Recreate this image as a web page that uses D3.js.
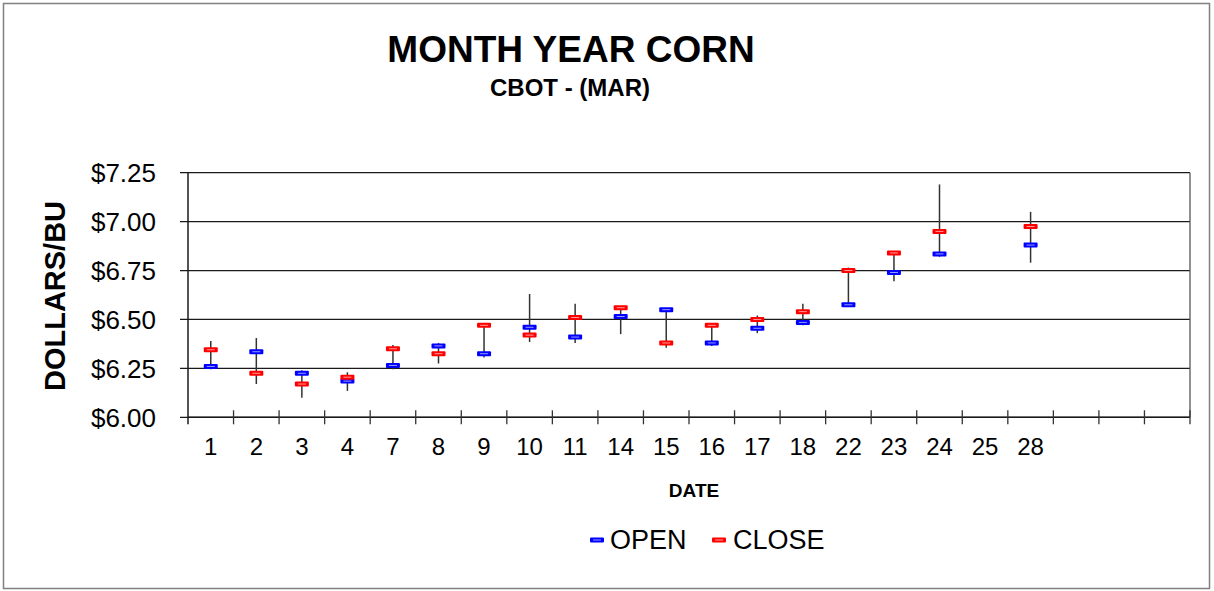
<!DOCTYPE html>
<html>
<head>
<meta charset="utf-8">
<script src="https://cdn.jsdelivr.net/npm/d3@7"></script>
<style>
  html, body { margin: 0; padding: 0; background: #fff; }
  svg { display: block; }
  text { font-family: "Liberation Sans", Arial, sans-serif; fill: #000; }
</style>
</head>
<body>
<svg id="chart" width="1214" height="591"></svg>
<script>
// ---- data ----
const dates  = ["1","2","3","4","7","8","9","10","11","14","15","16","17","18","22","23","24","25","28"];
const blankSlots = ["", "", ""];
const highs  = [6.39, 6.405, 6.24, 6.23, 6.37, 6.38, 6.47, 6.63, 6.58, 6.56, 6.55, 6.47, 6.52, 6.58, 6.765, 6.85, 7.19, null, 7.05];
const lows   = [6.245, 6.17, 6.10, 6.135, 6.245, 6.275, 6.305, 6.385, 6.38, 6.425, 6.355, 6.365, 6.43, 6.47, 6.575, 6.695, 6.82, null, 6.79];
const opens  = [6.26, 6.335, 6.225, 6.185, 6.265, 6.365, 6.325, 6.46, 6.41, 6.515, 6.55, 6.38, 6.455, 6.485, 6.575, 6.74, 6.835, null, 6.88];
const closes = [6.345, 6.225, 6.17, 6.205, 6.35, 6.325, 6.47, 6.42, 6.51, 6.56, 6.38, 6.47, 6.50, 6.54, 6.75, 6.84, 6.95, null, 6.975];
const yTicks = [6.00, 6.25, 6.50, 6.75, 7.00, 7.25];
const seriesNames = ["OPEN", "CLOSE"];

// ---- layout ----
const svg = d3.select("#chart");
const L = 188, R = 1190, T = 172.7, B = 417.3;

svg.append("rect").attr("x", 3.5).attr("y", 3.5).attr("width", 1206).attr("height", 585)
  .attr("fill", "#fff").attr("stroke", "#808080").attr("stroke-width", 1.5);

const slotKeys = dates.map((d, i) => "k" + i).concat(blankSlots.map((d, i) => "b" + i));
const slotLabels = dates.concat(blankSlots);
const x = d3.scaleBand().domain(slotKeys).range([L, R]).paddingInner(0).paddingOuter(0);
const y = d3.scaleLinear().domain([6, 7.25]).range([B, T]);

// gridlines
svg.append("g").selectAll("line").data(yTicks).join("line")
  .attr("x1", L - 8).attr("x2", R)
  .attr("y1", d => y(d)).attr("y2", d => y(d))
  .attr("stroke", "#1a1a1a").attr("stroke-width", 1.3);

// y axis labels
svg.append("g").selectAll("text").data(yTicks).join("text")
  .attr("x", 156).attr("y", d => y(d)).attr("dy", "0.36em")
  .attr("text-anchor", "end").attr("font-size", 26)
  .text(d => d3.format("$.2f")(d));

// left axis & right border
svg.append("line").attr("x1", L).attr("x2", L).attr("y1", T).attr("y2", B + 7)
  .attr("stroke", "#1a1a1a").attr("stroke-width", 1.5);
svg.append("line").attr("x1", R).attr("x2", R).attr("y1", T).attr("y2", B)
  .attr("stroke", "#555").attr("stroke-width", 1.3);

// x axis
const xAxis = d3.axisBottom(x).tickSize(0).tickFormat((d, i) => slotLabels[i]);
const gx = svg.append("g").attr("transform", `translate(0,${B})`).call(xAxis);
gx.select(".domain").remove();
gx.selectAll("text").attr("font-size", 24).attr("dy", 0).attr("y", 38)
  .style("font-family", '"Liberation Sans", Arial, sans-serif').attr("fill", "#000");
svg.append("line").attr("x1", L).attr("x2", R).attr("y1", B).attr("y2", B)
  .attr("stroke", "#1a1a1a").attr("stroke-width", 1.5);
// boundary ticks
const bounds = slotKeys.map(k => x(k)).concat([R]);
svg.append("g").selectAll("line").data(bounds.slice(1)).join("line")
  .attr("x1", d => d).attr("x2", d => d).attr("y1", B - 7).attr("y2", B + 7)
  .attr("stroke", "#333").attr("stroke-width", 1.3);

// high-low lines
const idx = d3.range(dates.length).filter(i => highs[i] != null);
const cx = i => x(slotKeys[i]) + x.bandwidth() / 2;
svg.append("g").selectAll("line").data(idx).join("line")
  .attr("x1", cx).attr("x2", cx)
  .attr("y1", i => y(highs[i])).attr("y2", i => y(lows[i]))
  .attr("stroke", "#333").attr("stroke-width", 1.5);

function marker(g, px, py, color, light) {
  g.append("rect").attr("x", px - 7).attr("y", py - 2.5).attr("width", 14).attr("height", 5)
    .attr("rx", 1).attr("fill", color);
  g.append("line").attr("x1", px - 4).attr("x2", px + 4).attr("y1", py).attr("y2", py)
    .attr("stroke", light).attr("stroke-width", 1);
}
const mk = svg.append("g");
idx.forEach(i => {
  marker(mk, cx(i), y(opens[i]), "#0000ff", "#9a9aff");
  marker(mk, cx(i), y(closes[i]), "#ff0000", "#ff9a9a");
});

// titles
svg.append("text").attr("x", 571).attr("y", 62).attr("text-anchor", "middle")
  .attr("font-size", 37).attr("font-weight", "bold").text("MONTH YEAR CORN");
svg.append("text").attr("x", 570).attr("y", 96).attr("text-anchor", "middle")
  .attr("font-size", 24).attr("font-weight", "bold").text("CBOT - (MAR)");
svg.append("text").attr("transform", "translate(65,296) rotate(-90)").attr("text-anchor", "middle")
  .attr("font-size", 29).attr("font-weight", "bold").text("DOLLARS/BU");
svg.append("text").attr("x", 694).attr("y", 497).attr("text-anchor", "middle")
  .attr("font-size", 19).attr("font-weight", "bold").text("DATE");

// legend
const lg = svg.append("g");
marker(lg, 597, 540, "#0000ff", "#9a9aff");
lg.append("text").attr("x", 610).attr("y", 549).attr("font-size", 27).text(seriesNames[0]);
marker(lg, 719, 540, "#ff0000", "#ff9a9a");
lg.append("text").attr("x", 733).attr("y", 549).attr("font-size", 27).text(seriesNames[1]);
</script>
</body>
</html>
